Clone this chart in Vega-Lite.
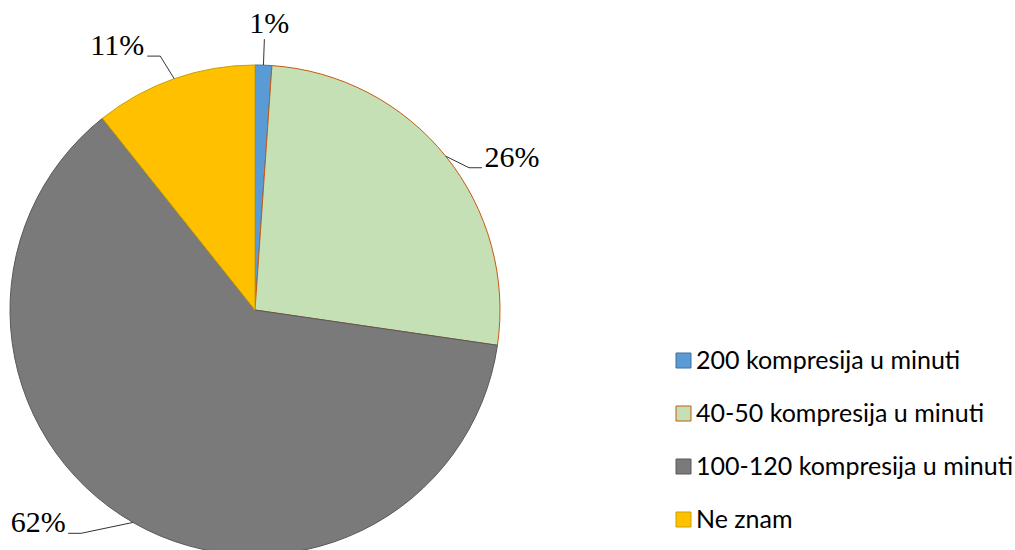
{
  "$schema": "https://vega.github.io/schema/vega-lite/v6.json",
  "width": 510,
  "height": 620,
  "autosize": {"type": "none"},
  "padding": {"left": 0, "top": 0, "right": 505, "bottom": 0},
  "background": "white",
  "config": {"view": {"stroke": null}},
  "data": {
    "values": [
      {"idx": 0, "cat": "200 kompresija u minuti", "value": 1.1},
      {"idx": 1, "cat": "40-50 kompresija u minuti", "value": 26.2},
      {"idx": 2, "cat": "100-120 kompresija u minuti", "value": 62.0},
      {"idx": 3, "cat": "Ne znam", "value": 10.7}
    ]
  },
  "transform": [
    {"joinaggregate": [{"op": "sum", "field": "value", "as": "total"}]},
    {"window": [{"op": "sum", "field": "value", "as": "cum"}], "sort": [{"field": "idx"}]},
    {"calculate": "2*PI*(datum.cum - datum.value/2)/datum.total", "as": "mid"},
    {"calculate": "245*sin(datum.mid)", "as": "ex"},
    {"calculate": "245*cos(datum.mid)", "as": "ey"},
    {"calculate": "datum.mid + (datum.idx==1 ? 0.092 : datum.idx==2 ? 0.14 : datum.idx==3 ? -0.021 : 0)", "as": "la"},
    {"calculate": "datum.idx==2 ? 283 : datum.idx==1 ? 257 : 271", "as": "er"},
    {"calculate": "datum.er*sin(datum.la)", "as": "bx"},
    {"calculate": "datum.er*cos(datum.la)", "as": "by"},
    {"calculate": "datum.idx==1 ? 1 : datum.idx==0 ? 0 : -1", "as": "sg"},
    {"calculate": "datum.bx + datum.sg*13", "as": "hx"},
    {"calculate": "datum.idx==0 ? datum.bx+5 : datum.hx + datum.sg*30", "as": "tx"},
    {"calculate": "datum.idx==0 ? datum.by+6 : datum.by+1", "as": "ty"},
    {"calculate": "format(datum.value/datum.total, '.0%')", "as": "lbl"}
  ],
  "layer": [
    {
      "mark": {"type": "arc", "outerRadius": 245, "strokeWidth": 1},
      "encoding": {
        "theta": {"field": "value", "type": "quantitative", "stack": true},
        "order": {"field": "idx", "type": "quantitative"},
        "color": {
          "field": "cat",
          "type": "nominal",
          "scale": {
            "domain": ["200 kompresija u minuti", "40-50 kompresija u minuti", "100-120 kompresija u minuti", "Ne znam"],
            "range": ["#5B9BD5", "#C5E0B4", "#7A7A7A", "#FFC000"]
          },
          "legend": {
            "title": null,
            "orient": "none",
            "legendX": 671,
            "legendY": 348,
            "padding": 0,
            "symbolType": "square",
            "symbolSize": 225,
            "symbolStrokeWidth": 1,
            "labelFont": "Lato",
            "labelFontSize": 25,
            "labelColor": "black",
            "labelOffset": 0,
            "rowPadding": 27,
            "labelLimit": 400
          }
        },
        "stroke": {
          "field": "cat",
          "type": "nominal",
          "scale": {
            "domain": ["200 kompresija u minuti", "40-50 kompresija u minuti", "100-120 kompresija u minuti", "Ne znam"],
            "range": ["#41719C", "#C55A11", "#595959", "#C9A000"]
          },
          "legend": {
            "title": null,
            "orient": "none",
            "legendX": 671,
            "legendY": 348,
            "padding": 0,
            "symbolType": "square",
            "symbolSize": 225,
            "symbolStrokeWidth": 1,
            "labelFont": "Lato",
            "labelFontSize": 25,
            "labelColor": "black",
            "labelOffset": 0,
            "rowPadding": 27,
            "labelLimit": 400
          }
        }
      }
    },
    {
      "mark": {"type": "rule", "color": "#333333", "strokeWidth": 1},
      "encoding": {
        "x": {"field": "ex", "type": "quantitative", "scale": {"domain": [-255, 255], "nice": false, "zero": false}, "axis": null},
        "y": {"field": "ey", "type": "quantitative", "scale": {"domain": [-310, 310], "nice": false, "zero": false}, "axis": null},
        "x2": {"field": "bx"},
        "y2": {"field": "by"}
      }
    },
    {
      "mark": {"type": "rule", "color": "#333333", "strokeWidth": 1},
      "encoding": {
        "x": {"field": "bx", "type": "quantitative", "axis": null},
        "y": {"field": "by", "type": "quantitative", "axis": null},
        "x2": {"field": "hx"},
        "y2": {"field": "by"}
      }
    },
    {
      "mark": {"type": "text", "font": "Liberation Serif", "fontSize": 30, "align": "center", "baseline": "alphabetic", "color": "black"},
      "encoding": {
        "x": {"field": "tx", "type": "quantitative", "axis": null},
        "y": {"field": "ty", "type": "quantitative", "axis": null},
        "text": {"field": "lbl"}
      }
    }
  ]
}
